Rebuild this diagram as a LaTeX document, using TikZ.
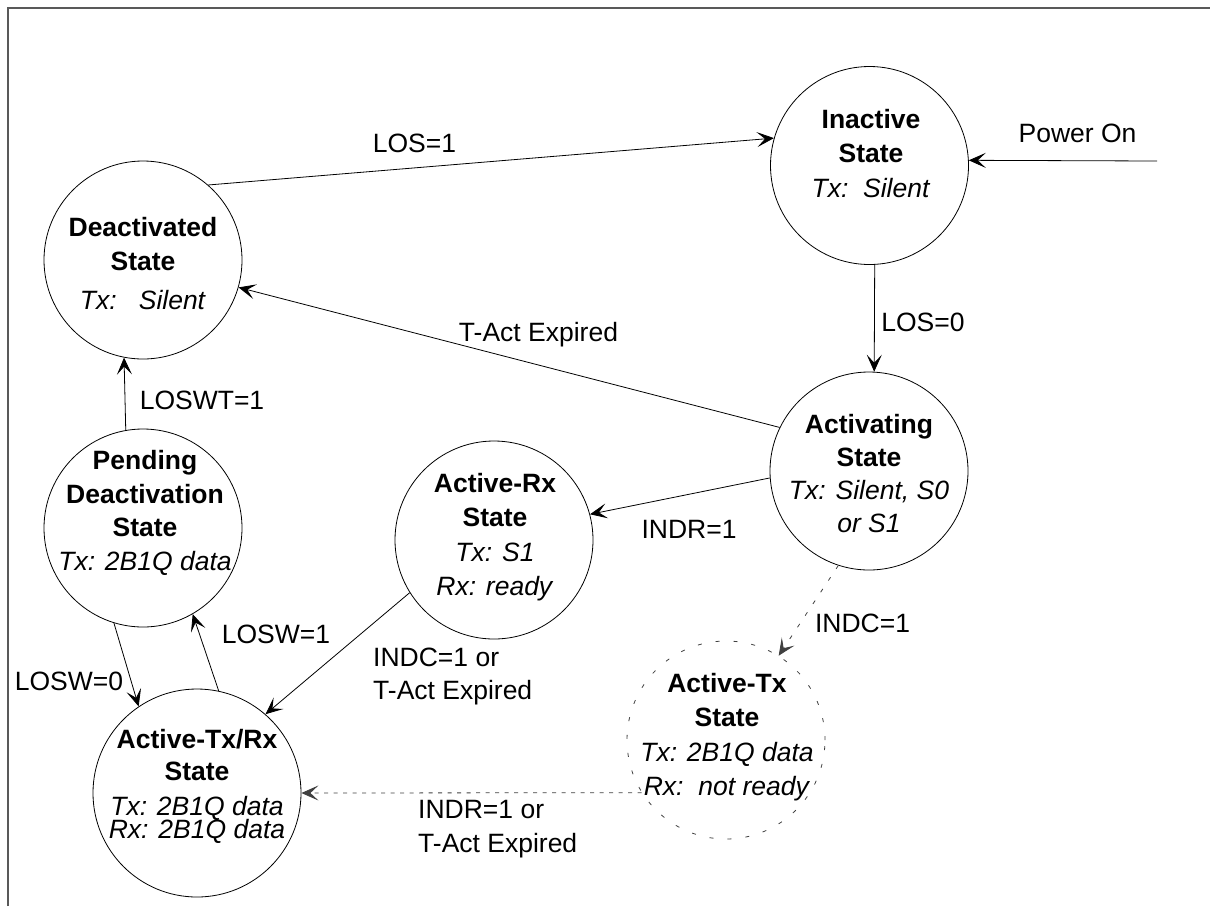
\documentclass[tikz,border=0pt]{standalone}
\usepackage{fontspec}
\setmainfont{Liberation Sans}
\usetikzlibrary{arrows.meta}
\begin{document}
\begin{tikzpicture}[x=1pt,y=-1pt,
  every node/.style={inner sep=0pt, font=\fontsize{26.5}{34}\selectfont},
  st/.style={circle, draw, line width=0.8pt, minimum size=198pt},
  stdash/.style={circle, draw=black!75, line width=0.8pt, minimum size=198pt, dash pattern=on 4pt off 14pt},
  tt/.style={align=center, anchor=center},
  lbl/.style={anchor=base},
  lbll/.style={anchor=north west, align=left},
  conn/.style={draw, line width=0.8pt, -{Stealth[length=17pt,width=15pt,inset=8pt]}},
  dconn/.style={conn, draw=black!75},
]
\useasboundingbox (0,0) rectangle (1210,906);
\draw[black!65, line width=1.5pt] (8,906) -- (8,8) -- (1210,8);

% states
\node[st] (deact) at (143,260) {};
\node[st] (inact) at (869.5,165.5) {};
\node[st] (activ) at (869,471) {};
\node[st] (actrx) at (494,540) {};
\node[st] (pend) at (143,528) {};
\node[st, minimum size=208pt] (txrx) at (197,793) {};
\node[stdash] (acttx) at (726,740) {};

% state texts
\node[tt] (deact-t) at (143,264) {\textbf{Deactivated}\\\textbf{State}\\[5pt]\textit{Tx:\ \ \ Silent}};
\node[tt] (inact-t) at (871,154) {\textbf{Inactive}\\\textbf{State}\\[1pt]\textit{Tx:\ \ Silent}};
\node[tt, font=\fontsize{26.5}{33}\selectfont] (activ-t) at (869,474) {\textbf{Activating}\\\textbf{State}\\\textit{Tx: Silent, S0}\\\textit{or S1}};
\node[tt, font=\fontsize{26.5}{34.5}\selectfont] (actrx-t) at (495,537) {\textbf{Active-Rx}\\\textbf{State}\\\textit{Tx: S1}\\\textit{Rx: ready}};
\node[tt, font=\fontsize{26.5}{33.7}\selectfont] (pend-t) at (145,513) {\textbf{Pending}\\\textbf{Deactivation}\\\textbf{State}\\\textit{Tx: 2B1Q data}};
\node[tt, font=\fontsize{26.5}{32}\selectfont] (txrx-t) at (197,786) {\textbf{Active-Tx/Rx}\\\textbf{State}\\[3pt]\textit{Tx: 2B1Q data}\\[-9pt]\textit{Rx: 2B1Q data}};
\node[tt, font=\fontsize{26.5}{34.3}\selectfont] (acttx-t) at (727,737) {\textbf{Active-Tx}\\\textbf{State}\\\textit{Tx: 2B1Q data}\\\textit{Rx:\ \ not ready}};

% connectors
\coordinate (pwr) at (1157,161);
\path[conn] (pwr) -- (inact.3);
\path[conn] (deact.49.5) -- (inact.164);
\path[conn] (inact.-87) -- (activ.87);
\path[conn] (activ.154.2) -- (deact.-16);
\path[conn] (activ.184) -- (actrx.15.5);
\path[dconn, dash pattern=on 4pt off 10pt] (activ.-108) -- (acttx.58);
\path[conn] (pend.100.3) -- (deact.259.7);
\path[conn] (pend.253.6) -- (txrx.124);
\path[conn] (txrx.78) -- (pend.-60.3);
\path[conn] (actrx.212.3) -- (txrx.49);
\path[dconn, dash pattern=on 4pt off 5.5pt] (acttx.212.4) -- (txrx.east);

% labels
\node[lbl] (l-pwr) at (1077.5,142) {Power On};
\node[lbl] (l-los1) at (414.5,152) {LOS=1};
\node[lbl] (l-los0) at (923,331) {LOS=0};
\node[lbl] (l-tact) at (538.5,341) {T-Act Expired};
\node[lbl] (l-indr) at (689,538) {INDR=1};
\node[lbl] (l-indc) at (862.5,632) {INDC=1};
\node[lbl] (l-loswt) at (202,409) {LOSWT=1};
\node[lbl] (l-losw0) at (69,690) {LOSW=0};
\node[lbl] (l-losw1) at (276,643) {LOSW=1};
\node[lbll, font=\fontsize{26.5}{33}\selectfont] (l-indc2) at (373,648) {INDC=1 or\\T-Act Expired};
\node[lbll] (l-indr2) at (418,800) {INDR=1 or\\T-Act Expired};
\end{tikzpicture}
\end{document}
